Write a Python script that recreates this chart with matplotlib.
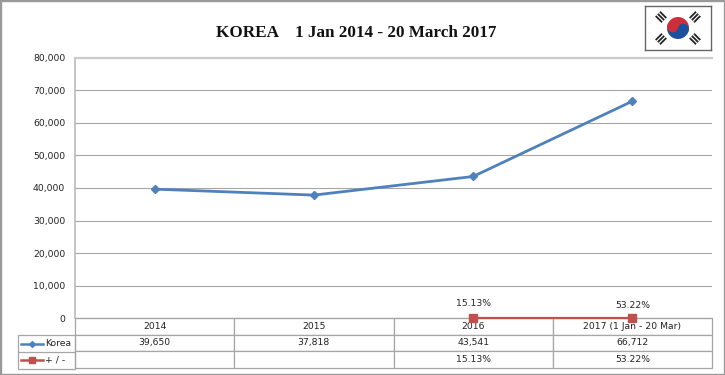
import matplotlib
matplotlib.use('Agg')
import matplotlib.pyplot as plt
from matplotlib.lines import Line2D
from matplotlib.patches import Circle, Rectangle, Wedge
from matplotlib.transforms import Affine2D
import numpy as np

W, H = 725, 375

categories = ['2014', '2015', '2016', '2017 (1 Jan - 20 Mar)']
korea = [39650, 37818, 43541, 66712]
change_x = [2, 3]
change = [0, 0]
change_labels = ['15.13%', '53.22%']
korea_row = ['39,650', '37,818', '43,541', '66,712']
change_row = ['', '', '15.13%', '53.22%']
yticks = [0, 10000, 20000, 30000, 40000, 50000, 60000, 70000, 80000]

BLUE = '#4f81bd'
RED = '#c0504d'
GRID = '#a6a6a6'
TEXT = '#222222'
FS = 6.7


def px_axes(fig, x0, y0, x1, y1):
    # pixel box measured from the top left of the image
    return fig.add_axes([x0 / W, 1 - y1 / H, (x1 - x0) / W, (y1 - y0) / H])


def draw_flag(ax):
    ax.set_xlim(0, 66)
    ax.set_ylim(44, 0)
    ax.set_xticks([])
    ax.set_yticks([])
    for s in ax.spines.values():
        s.set_color('#666666')
        s.set_linewidth(1)
    cx, cy, r, a = 33, 22, 11, 12
    dx, dy = r / 2 * np.cos(np.radians(a)), r / 2 * np.sin(np.radians(a))
    ax.add_patch(Wedge((cx, cy), r, a, a + 180, fc='#1c4f9c', ec='none'))
    ax.add_patch(Wedge((cx, cy), r, a + 180, a + 360, fc='#cd2e3a', ec='none'))
    ax.add_patch(Circle((cx - dx, cy - dy), r / 2, fc='#cd2e3a', ec='none'))
    ax.add_patch(Circle((cx + dx, cy + dy), r / 2, fc='#1c4f9c', ec='none'))
    # trigrams
    for tx, ty, ang in [(16, 11, 45), (50, 11, -45), (16, 33, -45), (50, 33, 45)]:
        for off in (-3, 0, 3):
            t = Rectangle((-4.5, off - 0.9), 9, 1.8, fc='#222222', ec='none')
            t.set_transform(Affine2D().rotate_deg(ang).translate(tx, ty) + ax.transData)
            ax.add_patch(t)


def draw_table(ax):
    rows = [categories, korea_row, change_row]
    tb = ax.table(cellText=rows, cellLoc='center', bbox=[0, -50 / 260, 1, 50 / 260])
    tb.auto_set_font_size(False)
    tb.set_fontsize(FS)
    for c in tb.get_celld().values():
        c.set_edgecolor(GRID)
        c.set_linewidth(0.9)
        c.get_text().set_color(TEXT)
    return tb


def legend_key(fig, y, color, marker, ms):
    fig.add_artist(Line2D([21 / W, 32 / W, 43 / W], [1 - y / H] * 3, color=color, lw=1.8,
                          marker=marker, ms=ms, markevery=[1], transform=fig.transFigure))


def plot_all():
    plt.rcParams['font.family'] = ['DejaVu Sans']
    fig = plt.figure(figsize=(W / 100, H / 100), dpi=100, facecolor='white')

    ax = px_axes(fig, 75, 58, 712, 318)
    x = range(len(categories))
    ax.plot(x, korea, color=BLUE, lw=2, marker='D', ms=3.6, mec=BLUE, mfc=BLUE, zorder=3)
    ax.plot(change_x, change, color=RED, lw=1.6, marker='s', ms=5.8, mec=RED, mfc=RED,
            zorder=4, clip_on=False)
    for xi, yi, lab, off in zip(change_x, change, change_labels, (7.5, 6)):
        ax.annotate(lab, (xi, yi), xytext=(0, off), textcoords='offset points',
                    ha='center', va='bottom', fontsize=FS, color=TEXT)

    ax.set_xlim(-0.5, 3.5)
    ax.set_ylim(0, 80000)
    ax.set_yticks(yticks)
    ax.set_yticklabels([f'{v:,}' for v in yticks], fontsize=FS, color=TEXT)
    ax.tick_params(axis='y', length=0, pad=7)
    ax.set_xticks([])
    ax.grid(axis='y', color=GRID, lw=0.8)
    ax.set_axisbelow(True)
    ax.spines['left'].set_color('#bbbbbb')
    ax.spines['left'].set_linewidth(1.2)
    ax.spines['top'].set_color('#cccccc')
    ax.spines['top'].set_linewidth(1.6)
    ax.spines['right'].set_visible(False)
    ax.spines['bottom'].set_color(GRID)

    draw_table(ax)

    # legend keys sit in the left column of the table
    fig.add_artist(Rectangle((18 / W, 1 - 368.5 / H), 57 / W, 33.5 / H, transform=fig.transFigure,
                             fc='none', ec=GRID, lw=0.9))
    fig.add_artist(Line2D([18 / W, 75 / W], [1 - 352 / H] * 2, color=GRID, lw=0.9,
                          transform=fig.transFigure))
    legend_key(fig, 343.5, BLUE, 'D', 3)
    legend_key(fig, 360, RED, 's', 5)
    fig.text(45 / W, 1 - 343.5 / H, 'Korea', fontsize=FS, color=TEXT, va='center')
    fig.text(45 / W, 1 - 360 / H, '+ / -', fontsize=FS, color=TEXT, va='center')

    fig.text(356 / W, 1 - 33 / H, 'KOREA    1 Jan 2014 - 20 March 2017', family='Liberation Serif',
             fontweight='bold', fontsize=12.35, color='#111111', ha='center', va='center')

    draw_flag(px_axes(fig, 645, 6, 711, 50))

    # image frame
    fig.add_artist(Rectangle((0, 0), 1, 1, transform=fig.transFigure, fc='none', ec='#999999', lw=2.4))
    fig.savefig('out.png', dpi=100, facecolor='white')


plot_all()
